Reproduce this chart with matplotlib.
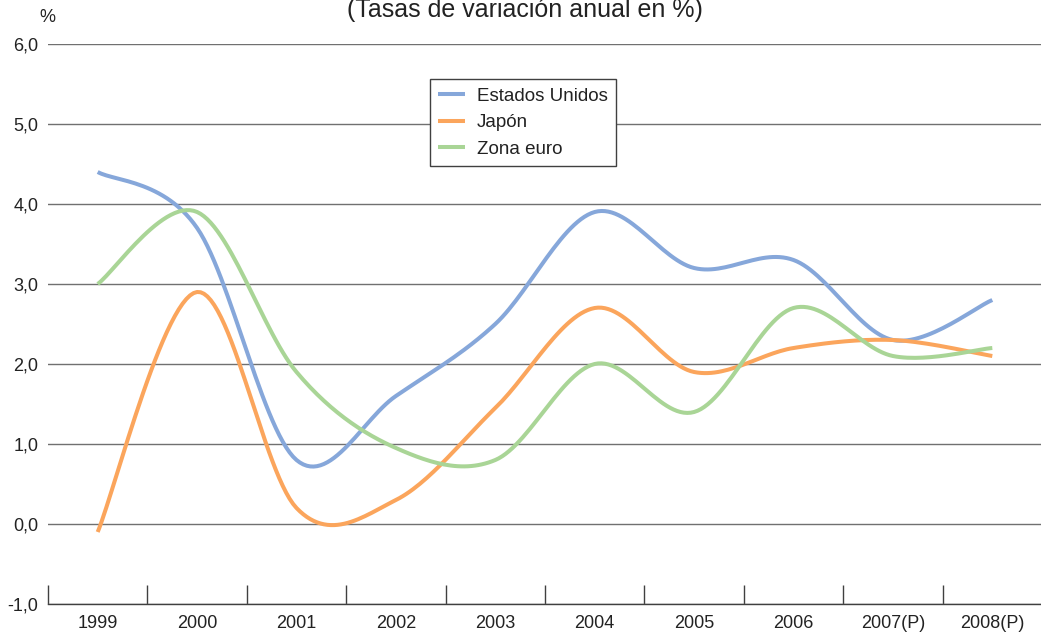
import numpy as np
import matplotlib
matplotlib.use('Agg')
import matplotlib.pyplot as plt
from matplotlib.ticker import FuncFormatter

plt.rcParams['font.family'] = ['Liberation Sans', 'DejaVu Sans']

years = ['1999', '2000', '2001', '2002', '2003', '2004', '2005', '2006', '2007(P)', '2008(P)']
usa = [4.4, 3.7, 0.8, 1.6, 2.5, 3.9, 3.2, 3.3, 2.3, 2.8]
japon = [-0.1, 2.9, 0.2, 0.3, 1.45, 2.7, 1.9, 2.2, 2.3, 2.1]
euro = [3.0, 3.9, 1.9, 0.95, 0.8, 2.0, 1.4, 2.7, 2.1, 2.2]

colors = {'usa': '#86a7da', 'japon': '#fba55c', 'euro': '#a9d596'}


def smooth(x, y, n=30):
    # curva suavizada tipo Excel (Bezier cubica con tangentes Catmull-Rom)
    x = np.asarray(x, float)
    y = np.asarray(y, float)
    px = np.concatenate([[x[0]], x, [x[-1]]])
    py = np.concatenate([[y[0]], y, [y[-1]]])
    xs, ys = [], []
    t = np.linspace(0, 1, n)
    for i in range(len(x) - 1):
        p0 = np.array([x[i], y[i]])
        p3 = np.array([x[i + 1], y[i + 1]])
        p1 = p0 + (np.array([px[i + 2], py[i + 2]]) - np.array([px[i], py[i]])) / 6
        p2 = p3 - (np.array([px[i + 3], py[i + 3]]) - np.array([px[i + 1], py[i + 1]])) / 6
        b = ((1 - t) ** 3)[:, None] * p0 + (3 * (1 - t) ** 2 * t)[:, None] * p1 \
            + (3 * (1 - t) * t ** 2)[:, None] * p2 + (t ** 3)[:, None] * p3
        xs.extend(b[:, 0])
        ys.extend(b[:, 1])
    return np.array(xs), np.array(ys)


fig = plt.figure(figsize=(10.41, 6.32), dpi=100)
ax = fig.add_axes([48 / 1041, 1 - 604 / 632, 994 / 1041, 560 / 632])

xpos = np.arange(len(years))
for serie, nombre, c in [(usa, 'Estados Unidos', colors['usa']),
                         (japon, 'Japón', colors['japon']),
                         (euro, 'Zona euro', colors['euro'])]:
    sx, sy = smooth(xpos, serie)
    ax.plot(sx, sy, color=c, lw=2.9, label=nombre, solid_capstyle='butt', zorder=3)

ax.set_xlim(-0.5, len(years) - 0.5)
ax.set_ylim(-1, 6)
ax.set_yticks(np.arange(-1, 7))
ax.yaxis.set_major_formatter(FuncFormatter(lambda v, p: ('%.1f' % v).replace('.', ',')))
ax.grid(axis='y', color='#707070', lw=1)
ax.set_axisbelow(True)

for s in ['top', 'right', 'left']:
    ax.spines[s].set_visible(False)
ax.spines['bottom'].set_color('#404040')
ax.spines['bottom'].set_linewidth(1)

ax.set_xticks(xpos)
ax.set_xticklabels(years)
ax.set_xticks(np.arange(-0.5, len(years) - 0.5), minor=True)
ax.tick_params(axis='x', which='major', length=0, pad=8, labelsize=13, colors='#222222')
ax.tick_params(axis='x', which='minor', direction='in', length=14, width=1, color='#404040')
ax.tick_params(axis='y', length=0, pad=7, labelsize=13, labelcolor='#222222')

leg = ax.legend(loc='upper left', bbox_to_anchor=(0.384, 0.9375), fontsize=13.5,
                frameon=True, fancybox=False, handlelength=1.45, handletextpad=0.6,
                labelspacing=0.5, borderpad=0.45, borderaxespad=0)
leg.get_frame().set_edgecolor('#404040')
leg.get_frame().set_linewidth(1)
leg.get_frame().set_alpha(1)
for t in leg.get_texts():
    t.set_color('#222222')

fig.text(525 / 1041, 1 - 17 / 632, '(Tasas de variación anual en %)', ha='center',
         va='baseline', fontsize=18, color='#222222')
fig.text(47 / 1041, 1 - 18 / 632, '%', ha='center', va='center', fontsize=13, color='#222222')

fig.savefig('out.png', dpi=100)
